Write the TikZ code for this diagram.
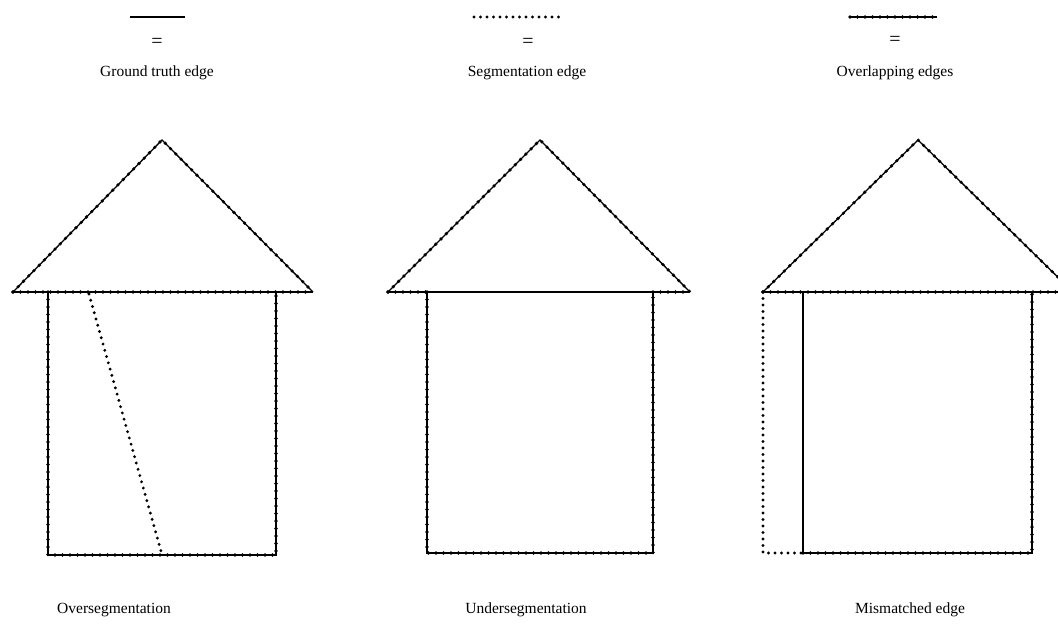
\documentclass[tikz,border=0pt]{standalone}
\usepackage{fontspec}
\setmainfont{Liberation Serif}
\begin{document}
\begin{tikzpicture}[x=1pt,y=-1pt,
  gt/.style={line width=1.2pt},
  seg/.style={line width=3.2pt, dash pattern=on 0pt off 6.5pt, line cap=round},
  ovl/.style={line width=1.3pt, postaction={draw, line width=3.6pt, dash pattern=on 0pt off 7.5pt, line cap=round}},
  lbl/.style={font=\fontsize{15.5}{18}\selectfont, inner sep=0pt},
  eq/.style={font=\fontsize{20}{22}\selectfont, inner sep=0pt}]
\clip (0,0) rectangle (1058,626);
\fill[white] (0,0) rectangle (1058,626);
% legend
\coordinate (g1) at (130,17); \coordinate (g2) at (185,17);
\draw[gt] (g1) -- (g2);
\node[eq] (ge) at (157,43) {=};
\node[lbl] (gl) at (157,73) {Ground truth edge};
\coordinate (s1) at (474,17); \coordinate (s2) at (562,17);
\draw[seg] (s1) -- (s2);
\node[eq] (se) at (528,43) {=};
\node[lbl] (sl) at (527,73) {Segmentation edge};
\coordinate (o1) at (850,17); \coordinate (o2) at (937,17);
\draw[ovl] (o1) -- (o2);
\node[eq] (oe) at (895,41) {=};
\node[lbl] (ol) at (895,73) {Overlapping edges};
% house 1
\coordinate (a1) at (162,140); \coordinate (l1) at (13,292); \coordinate (r1) at (313,292);
\coordinate (w1a) at (48,292); \coordinate (w1b) at (276,292);
\coordinate (b1a) at (48,555); \coordinate (b1b) at (276,555);
\draw[ovl] (l1) -- (a1) -- (r1);
\draw[ovl] (l1) -- (r1);
\draw[ovl] (w1a) -- (b1a) -- (b1b) -- (w1b);
\coordinate (d1) at (89,294); \coordinate (d2) at (161,551);
\draw[seg] (d1) -- (d2);
\node[lbl] (t1) at (114,610) {Oversegmentation};
% house 2
\coordinate (a2) at (540,140); \coordinate (l2) at (388,292); \coordinate (r2) at (690,292);
\coordinate (w2a) at (427,292); \coordinate (w2b) at (653,292);
\coordinate (b2a) at (427,553); \coordinate (b2b) at (653,553);
\draw[ovl] (l2) -- (a2) -- (r2);
\draw[ovl] (l2) -- (w2a);
\draw[ovl] (w2b) -- (r2);
\draw[gt] (w2a) -- (w2b);
\draw[ovl] (w2a) -- (b2a) -- (b2b) -- (w2b);
\node[lbl] (t2) at (526,610) {Undersegmentation};
% house 3
\coordinate (a3) at (918,140); \coordinate (l3) at (763,292); \coordinate (r3) at (1073,292);
\coordinate (w3s) at (763,292); \coordinate (w3g) at (803,292); \coordinate (w3r) at (1032,292);
\coordinate (b3s) at (763,553); \coordinate (b3g) at (803,553); \coordinate (b3r) at (1032,553);
\draw[ovl] (l3) -- (a3) -- (r3);
\draw[ovl] (l3) -- (r3);
\draw[seg] (w3s) -- (b3s) -- (b3g);
\draw[gt] (w3g) -- (b3g);
\draw[ovl] (b3g) -- (b3r) -- (w3r);
\node[lbl] (t3) at (910,610) {Mismatched edge};
\end{tikzpicture}
\end{document}
